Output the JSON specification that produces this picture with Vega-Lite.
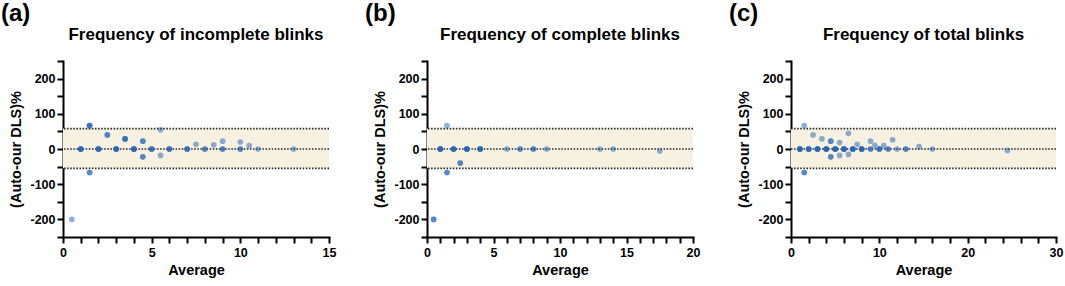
{
  "$schema": "https://vega.github.io/schema/vega-lite/v6.json",
  "padding": {"left": 0, "top": 2, "right": 2, "bottom": 2},
  "background": "white",
  "config": {
    "view": {"stroke": null},
    "font": "Liberation Sans",
    "axis": {
      "grid": false,
      "ticks": true,
      "domain": true,
      "domainColor": "#000",
      "domainWidth": 2,
      "domainCap": "square",
      "tickColor": "#000",
      "tickWidth": 2,
      "tickSize": 6,
      "tickOpacity": 1,
      "labelOverlap": false,
      "labelColor": "#000",
      "labelFont": "Liberation Sans",
      "labelFontWeight": "bold",
      "labelFontSize": 12.5,
      "labelPadding": 2,
      "titleFont": "Liberation Sans",
      "titleFontWeight": "bold",
      "titleFontSize": 14.5,
      "titleColor": "#000"
    },
    "title": {"font": "Liberation Sans", "fontWeight": "bold", "color": "#000"}
  },
  "datasets": {
    "limits": [{"lo": -55, "hi": 58}],
    "lines": [{"y": 58}, {"y": 0}, {"y": -55}],
    "a": [
      {"avg": 0.5, "diff": -200},
      {"avg": 1, "diff": 0}, {"avg": 1, "diff": 0}, {"avg": 1, "diff": 0}, {"avg": 1, "diff": 0},
      {"avg": 1.5, "diff": 66.7}, {"avg": 1.5, "diff": 66.7}, {"avg": 1.5, "diff": 66.7},
      {"avg": 1.5, "diff": -66.7}, {"avg": 1.5, "diff": -66.7},
      {"avg": 2, "diff": 0}, {"avg": 2, "diff": 0}, {"avg": 2, "diff": 0}, {"avg": 2, "diff": 0},
      {"avg": 2.5, "diff": 40}, {"avg": 2.5, "diff": 40},
      {"avg": 3, "diff": 0}, {"avg": 3, "diff": 0}, {"avg": 3, "diff": 0}, {"avg": 3, "diff": 0},
      {"avg": 3.5, "diff": 28.6}, {"avg": 3.5, "diff": 28.6}, {"avg": 3.5, "diff": 28.6},
      {"avg": 4, "diff": 0}, {"avg": 4, "diff": 0}, {"avg": 4, "diff": 0}, {"avg": 4, "diff": 0},
      {"avg": 4.5, "diff": 22.2}, {"avg": 4.5, "diff": 22.2},
      {"avg": 4.5, "diff": -22.2}, {"avg": 4.5, "diff": -22.2},
      {"avg": 5, "diff": 0}, {"avg": 5, "diff": 0}, {"avg": 5, "diff": 0},
      {"avg": 5.5, "diff": 54.5},
      {"avg": 5.5, "diff": -18.2},
      {"avg": 6, "diff": 0}, {"avg": 6, "diff": 0}, {"avg": 6, "diff": 0},
      {"avg": 7, "diff": 0}, {"avg": 7, "diff": 0}, {"avg": 7, "diff": 0},
      {"avg": 7.5, "diff": 13.3},
      {"avg": 8, "diff": 0}, {"avg": 8, "diff": 0},
      {"avg": 8.5, "diff": 11.8},
      {"avg": 9, "diff": 22.2},
      {"avg": 9, "diff": 0}, {"avg": 9, "diff": 0},
      {"avg": 10, "diff": 20},
      {"avg": 10, "diff": 0}, {"avg": 10, "diff": 0},
      {"avg": 10.5, "diff": 9.5},
      {"avg": 11, "diff": 0},
      {"avg": 13, "diff": 0}
    ],
    "b": [
      {"avg": 0.5, "diff": -200}, {"avg": 0.5, "diff": -200},
      {"avg": 1, "diff": 0}, {"avg": 1, "diff": 0}, {"avg": 1, "diff": 0}, {"avg": 1, "diff": 0},
      {"avg": 1.5, "diff": 66.7},
      {"avg": 1.5, "diff": -66.7}, {"avg": 1.5, "diff": -66.7},
      {"avg": 2, "diff": 0}, {"avg": 2, "diff": 0}, {"avg": 2, "diff": 0}, {"avg": 2, "diff": 0},
      {"avg": 2.5, "diff": -40}, {"avg": 2.5, "diff": -40},
      {"avg": 3, "diff": 0}, {"avg": 3, "diff": 0}, {"avg": 3, "diff": 0}, {"avg": 3, "diff": 0},
      {"avg": 4, "diff": 0}, {"avg": 4, "diff": 0}, {"avg": 4, "diff": 0}, {"avg": 4, "diff": 0},
      {"avg": 6, "diff": 0},
      {"avg": 7, "diff": 0}, {"avg": 7, "diff": 0},
      {"avg": 8, "diff": 0}, {"avg": 8, "diff": 0},
      {"avg": 9, "diff": 0},
      {"avg": 13, "diff": 0},
      {"avg": 14, "diff": 0},
      {"avg": 17.5, "diff": -5.7}
    ],
    "c": [
      {"avg": 1, "diff": 0}, {"avg": 1, "diff": 0}, {"avg": 1, "diff": 0}, {"avg": 1, "diff": 0},
      {"avg": 1.5, "diff": 66.7},
      {"avg": 1.5, "diff": -66.7}, {"avg": 1.5, "diff": -66.7},
      {"avg": 2, "diff": 0}, {"avg": 2, "diff": 0}, {"avg": 2, "diff": 0}, {"avg": 2, "diff": 0},
      {"avg": 2.5, "diff": 40},
      {"avg": 3, "diff": 0}, {"avg": 3, "diff": 0}, {"avg": 3, "diff": 0}, {"avg": 3, "diff": 0},
      {"avg": 3.5, "diff": 28.6},
      {"avg": 4, "diff": 0}, {"avg": 4, "diff": 0}, {"avg": 4, "diff": 0}, {"avg": 4, "diff": 0},
      {"avg": 4.5, "diff": 22.2}, {"avg": 4.5, "diff": 22.2},
      {"avg": 4.5, "diff": -22.2}, {"avg": 4.5, "diff": -22.2},
      {"avg": 5, "diff": 0}, {"avg": 5, "diff": 0}, {"avg": 5, "diff": 0}, {"avg": 5, "diff": 0},
      {"avg": 5.5, "diff": 18.2},
      {"avg": 5.5, "diff": -18.2},
      {"avg": 6, "diff": 0}, {"avg": 6, "diff": 0}, {"avg": 6, "diff": 0}, {"avg": 6, "diff": 0},
      {"avg": 6.5, "diff": 44.4},
      {"avg": 6.5, "diff": -15.4},
      {"avg": 7, "diff": 0}, {"avg": 7, "diff": 0}, {"avg": 7, "diff": 0}, {"avg": 7, "diff": 0},
      {"avg": 7.5, "diff": 13.3},
      {"avg": 8, "diff": 0}, {"avg": 8, "diff": 0}, {"avg": 8, "diff": 0}, {"avg": 8, "diff": 0},
      {"avg": 9, "diff": 22.2},
      {"avg": 9, "diff": 0}, {"avg": 9, "diff": 0},
      {"avg": 9.5, "diff": 10.5},
      {"avg": 10, "diff": 0}, {"avg": 10, "diff": 0}, {"avg": 10, "diff": 0},
      {"avg": 10.5, "diff": 9.5},
      {"avg": 11, "diff": 0}, {"avg": 11, "diff": 0},
      {"avg": 11.5, "diff": 26},
      {"avg": 12, "diff": 0},
      {"avg": 13, "diff": 0}, {"avg": 13, "diff": 0},
      {"avg": 14.5, "diff": 6.9},
      {"avg": 16, "diff": 0},
      {"avg": 24.5, "diff": -4.1}
    ]
  },
  "spacing": 28,
  "hconcat": [
    {
      "title": {"text": "(a)", "anchor": "start", "frame": "bounds", "fontSize": 24, "offset": 0, "dx": -8},
      "vconcat": [
        {
          "width": 266, "height": 176,
          "title": {"text": "Frequency of incomplete blinks", "fontSize": 17, "offset": 11},
          "encoding": {
            "x": {"field": "avg", "type": "quantitative", "title": "Average",
                  "scale": {"domain": [0, 15], "nice": false},
                  "axis": {"values": [0,1,2,3,4,5,6,7,8,9,10,11,12,13,14,15],
                           "labelExpr": "datum.value % 5 === 0 ? '' + datum.value : ''",
                           "ticks": true, "tickSize": 6, "tickWidth": 2, "tickColor": "#000",
                           "labelPadding": 3, "titlePadding": 5, "labelFlush": false}},
            "y": {"field": "diff", "type": "quantitative", "title": "(Auto-our DLS)%",
                  "scale": {"domain": [-250, 250], "nice": false},
                  "axis": {"values": [-250,-200,-150,-100,-50,0,50,100,150,200,250],
                           "labelExpr": "datum.value % 100 === 0 ? '' + datum.value : ''",
                           "ticks": true, "tickSize": 6, "tickWidth": 2, "tickColor": "#000",
                           "titlePadding": 6}}
          },
          "layer": [
            {"data": {"name": "limits"}, "mark": {"type": "rect", "color": "#f7f1e1"},
             "encoding": {"x": null, "y": {"field": "lo", "type": "quantitative", "title": "(Auto-our DLS)%"}, "y2": {"field": "hi"}}},
            {"data": {"name": "lines"}, "mark": {"type": "rule", "color": "#222", "strokeDash": [1.5, 1.6], "strokeWidth": 1.6},
             "encoding": {"x": null, "y": {"field": "y", "type": "quantitative", "title": "(Auto-our DLS)%"}}},
            {"data": {"name": "a"}, "mark": {"type": "circle", "size": 32, "color": "#1d5fb8", "opacity": 0.5}}
          ]
        }
      ]
    },
    {
      "title": {"text": "(b)", "anchor": "start", "frame": "bounds", "fontSize": 24, "offset": 0, "dx": -8},
      "vconcat": [
        {
          "width": 266, "height": 176,
          "title": {"text": "Frequency of complete blinks", "fontSize": 17, "offset": 11},
          "encoding": {
            "x": {"field": "avg", "type": "quantitative", "title": "Average",
                  "scale": {"domain": [0, 20], "nice": false},
                  "axis": {"values": [0,1,2,3,4,5,6,7,8,9,10,11,12,13,14,15,16,17,18,19,20],
                           "labelExpr": "datum.value % 5 === 0 ? '' + datum.value : ''",
                           "ticks": true, "tickSize": 6, "tickWidth": 2, "tickColor": "#000",
                           "labelPadding": 3, "titlePadding": 5, "labelFlush": false}},
            "y": {"field": "diff", "type": "quantitative", "title": "(Auto-our DLS)%",
                  "scale": {"domain": [-250, 250], "nice": false},
                  "axis": {"values": [-250,-200,-150,-100,-50,0,50,100,150,200,250],
                           "labelExpr": "datum.value % 100 === 0 ? '' + datum.value : ''",
                           "ticks": true, "tickSize": 6, "tickWidth": 2, "tickColor": "#000",
                           "titlePadding": 6}}
          },
          "layer": [
            {"data": {"name": "limits"}, "mark": {"type": "rect", "color": "#f7f1e1"},
             "encoding": {"x": null, "y": {"field": "lo", "type": "quantitative", "title": "(Auto-our DLS)%"}, "y2": {"field": "hi"}}},
            {"data": {"name": "lines"}, "mark": {"type": "rule", "color": "#222", "strokeDash": [1.5, 1.6], "strokeWidth": 1.6},
             "encoding": {"x": null, "y": {"field": "y", "type": "quantitative", "title": "(Auto-our DLS)%"}}},
            {"data": {"name": "b"}, "mark": {"type": "circle", "size": 32, "color": "#1d5fb8", "opacity": 0.5}}
          ]
        }
      ]
    },
    {
      "title": {"text": "(c)", "anchor": "start", "frame": "bounds", "fontSize": 24, "offset": 0, "dx": -8},
      "vconcat": [
        {
          "width": 265, "height": 176,
          "title": {"text": "Frequency of total blinks", "fontSize": 17, "offset": 11},
          "encoding": {
            "x": {"field": "avg", "type": "quantitative", "title": "Average",
                  "scale": {"domain": [0, 30], "nice": false},
                  "axis": {"values": [0,2,4,6,8,10,12,14,16,18,20,22,24,26,28,30],
                           "labelExpr": "datum.value % 10 === 0 ? '' + datum.value : ''",
                           "ticks": true, "tickSize": 6, "tickWidth": 2, "tickColor": "#000",
                           "labelPadding": 3, "titlePadding": 5, "labelFlush": false}},
            "y": {"field": "diff", "type": "quantitative", "title": "(Auto-our DLS)%",
                  "scale": {"domain": [-250, 250], "nice": false},
                  "axis": {"values": [-250,-200,-150,-100,-50,0,50,100,150,200,250],
                           "labelExpr": "datum.value % 100 === 0 ? '' + datum.value : ''",
                           "ticks": true, "tickSize": 6, "tickWidth": 2, "tickColor": "#000",
                           "titlePadding": 6}}
          },
          "layer": [
            {"data": {"name": "limits"}, "mark": {"type": "rect", "color": "#f7f1e1"},
             "encoding": {"x": null, "y": {"field": "lo", "type": "quantitative", "title": "(Auto-our DLS)%"}, "y2": {"field": "hi"}}},
            {"data": {"name": "lines"}, "mark": {"type": "rule", "color": "#222", "strokeDash": [1.5, 1.6], "strokeWidth": 1.6},
             "encoding": {"x": null, "y": {"field": "y", "type": "quantitative", "title": "(Auto-our DLS)%"}}},
            {"data": {"name": "c"}, "mark": {"type": "circle", "size": 32, "color": "#1d5fb8", "opacity": 0.5}}
          ]
        }
      ]
    }
  ]
}
